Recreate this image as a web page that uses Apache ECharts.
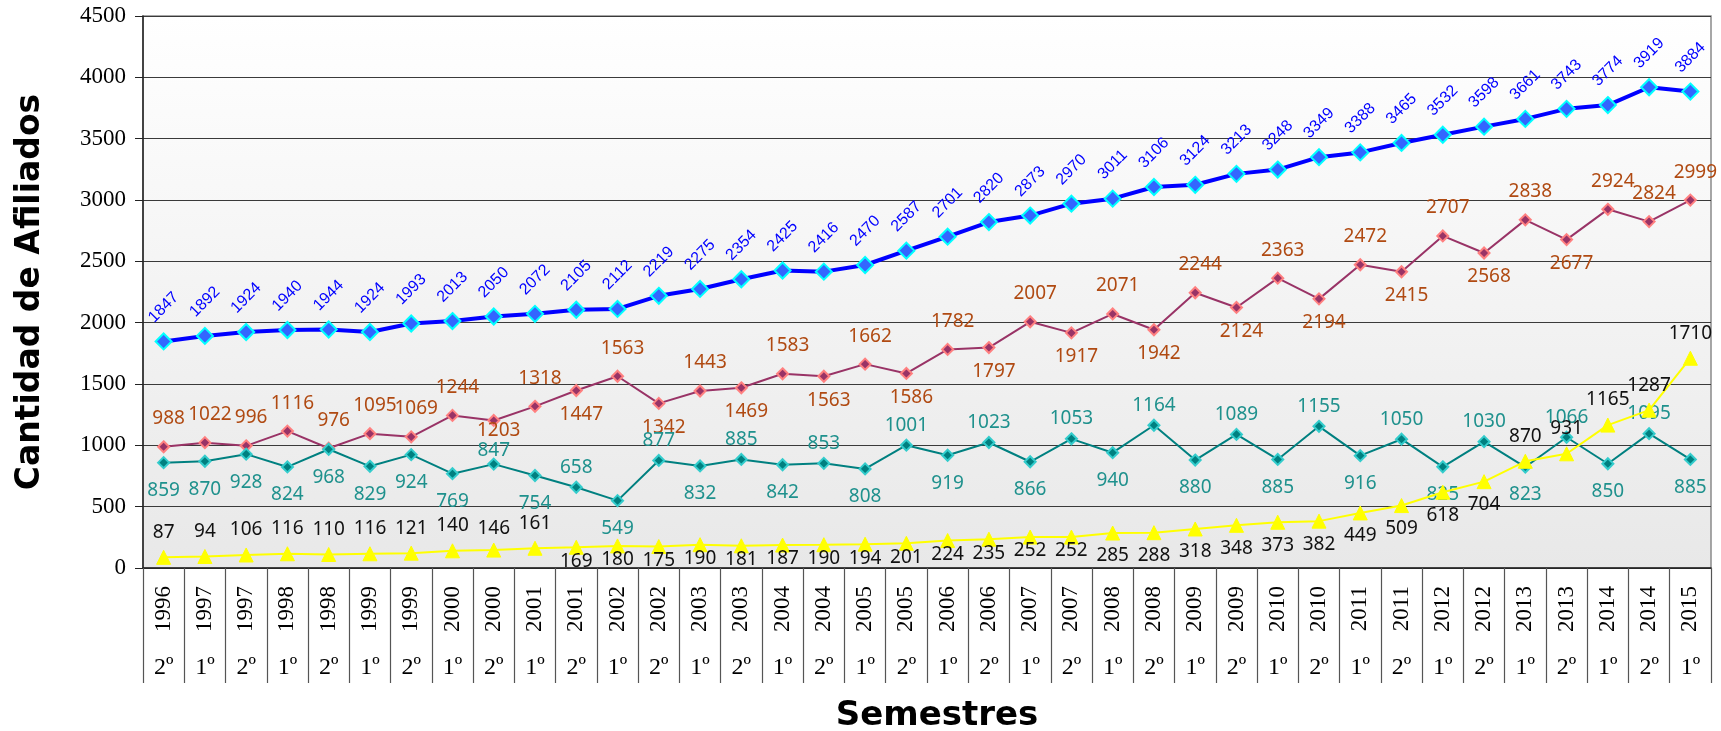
<!DOCTYPE html>
<html><head><meta charset="utf-8">
<script src="https://cdn.jsdelivr.net/npm/echarts@6/dist/echarts.min.js"></script>
<style>html,body{margin:0;padding:0;background:#fff}#c{width:1721px;height:731px}</style>
</head><body><div id="c"></div>
<script>
const years = ['1996','1997','1997','1998','1998','1999','1999','2000','2000','2001','2001','2002','2002','2003','2003','2004','2004','2005','2005','2006','2006','2007','2007','2008','2008','2009','2009','2010','2010','2011','2011','2012','2012','2013','2013','2014','2014','2015'];
const semesters = ['2º','1º','2º','1º','2º','1º','2º','1º','2º','1º','2º','1º','2º','1º','2º','1º','2º','1º','2º','1º','2º','1º','2º','1º','2º','1º','2º','1º','2º','1º','2º','1º','2º','1º','2º','1º','2º','1º'];
const totalVals = [1847,1892,1924,1940,1944,1924,1993,2013,2050,2072,2105,2112,2219,2275,2354,2425,2416,2470,2587,2701,2820,2873,2970,3011,3106,3124,3213,3248,3349,3388,3465,3532,3598,3661,3743,3774,3919,3884];
const redVals = [988,1022,996,1116,976,1095,1069,1244,1203,1318,1447,1563,1342,1443,1469,1583,1563,1662,1586,1782,1797,2007,1917,2071,1942,2244,2124,2363,2194,2472,2415,2707,2568,2838,2677,2924,2824,2999];
const tealVals = [859,870,928,824,968,829,924,769,847,754,658,549,877,832,885,842,853,808,1001,919,1023,866,1053,940,1164,880,1089,885,1155,916,1050,825,1030,823,1066,850,1095,885];
const yellowVals = [87,94,106,116,110,116,121,140,146,161,169,180,175,190,181,187,190,194,201,224,235,252,252,285,288,318,348,373,382,449,509,618,704,870,931,1165,1287,1710];
const yMin = 0, yMax = 4500, yStep = 500;

function redPos(i){ return (i>=8 && i<=35 && i%2===0) ? 'bottom' : 'top'; }
function tealPos(i){ return (i>=8 && i%2===0) ? 'top' : 'bottom'; }
function yellowPos(i){ return (i>=10 && i<=32) ? 'bottom' : 'top'; }
// labels squeezed where the red and teal points sit close together
function tight(i){ return redPos(i)==='bottom' && tealPos(i)==='top' && (redVals[i]-tealVals[i]) < 400; }

function items(vals, posFn, dTop, dBot, tightDist, lowDist){
  return vals.map((v,i)=>{
    const p = posFn(i);
    let d = p==='top'?dTop:dBot;
    if (tight(i)) d = tightDist;
    // keep labels of points near the baseline inside the plot
    if (p==='bottom' && lowDist!==undefined && v < 260) d = lowDist;
    return {value:v, label:{position:p, distance:d}};
  });
}

const chart = echarts.init(document.getElementById('c'));
const lblFont = {fontFamily:'Noto Sans', fontSize:19};
chart.setOption({
  animation:false,
  grid:{left:143, right:10, top:16, bottom:163, show:true, outerBoundsMode:'none', containLabel:false,
    backgroundColor:{type:'linear',x:0,y:0,x2:0,y2:1,colorStops:[{offset:0,color:'#ffffff'},{offset:1,color:'#e8e8e8'}]},
    borderColor:'#8a8a8a', borderWidth:1.5},
  xAxis:[
    {type:'category', data:years, position:'bottom',
     name:'Semestres', nameLocation:'middle', nameGap:131,
     nameTextStyle:{fontFamily:'DejaVu Sans', fontWeight:'bold', fontSize:34, color:'#000', padding:[0,0,0,20]},
     axisLine:{onZero:false, lineStyle:{color:'#222', width:1.5}},
     axisTick:{show:true, interval:0, length:115, lineStyle:{color:'#555', width:1.2}},
     axisLabel:{interval:0, rotate:90, margin:18, fontFamily:'Liberation Serif', fontSize:23, color:'#000'},
     splitLine:{show:false}},
    {type:'category', data:semesters, position:'bottom',
     axisLine:{show:false, onZero:false}, axisTick:{show:false},
     axisLabel:{interval:0, margin:88, fontFamily:'Liberation Serif', fontSize:24, color:'#000'},
     splitLine:{show:false}}
  ],
  yAxis:{type:'value', min:yMin, max:yMax, interval:yStep,
    name:'Cantidad de Afiliados', nameLocation:'middle', nameGap:96, nameRotate:90,
    nameTextStyle:{fontFamily:'DejaVu Sans', fontWeight:'bold', fontSize:33, color:'#000'},
    axisLine:{show:true, lineStyle:{color:'#222', width:1.5}},
    axisTick:{show:true, length:8, lineStyle:{color:'#222'}},
    axisLabel:{margin:17, fontFamily:'Liberation Serif', fontSize:23, color:'#000', formatter:(v)=>String(v)},
    splitLine:{show:true, lineStyle:{color:'#3a3a3a', width:1.2}}},
  series:[
    {name:'Total', type:'line', data:totalVals, symbol:'diamond', symbolSize:16,
     lineStyle:{color:'#0000ff', width:4},
     itemStyle:{color:'#3366ff', borderColor:'#00ffff', borderWidth:2},
     label:{show:true, position:'top', distance:25, rotate:45, align:'center', verticalAlign:'middle',
       fontFamily:'Liberation Sans', fontSize:16, color:'#0000ff'}, z:5},
    {name:'Serie B', type:'line', data:items(redVals, redPos, 12, 8, -6), symbol:'diamond', symbolSize:11,
     lineStyle:{color:'#993366', width:2},
     itemStyle:{color:'#993366', borderColor:'#ff8080', borderWidth:2},
     label:Object.assign({show:true, color:'#b04a12', offset:[5,0]}, lblFont), z:3},
    {name:'Serie C', type:'line', data:items(tealVals, tealPos, 4, 12, -2), symbol:'diamond', symbolSize:11,
     lineStyle:{color:'#008080', width:2},
     itemStyle:{color:'#008080', borderColor:'#33cccc', borderWidth:2},
     label:Object.assign({show:true, color:'#1f918d'}, lblFont), z:3},
    {name:'Serie D', type:'line', data:items(yellowVals, yellowPos, 8, 6, 4, -3), symbol:'triangle', symbolSize:14,
     lineStyle:{color:'#ffff00', width:2},
     itemStyle:{color:'#ffff00', borderColor:'#ffff00', borderWidth:1},
     label:Object.assign({show:true, color:'#111'}, lblFont), z:4}
  ]
});
</script></body></html>
